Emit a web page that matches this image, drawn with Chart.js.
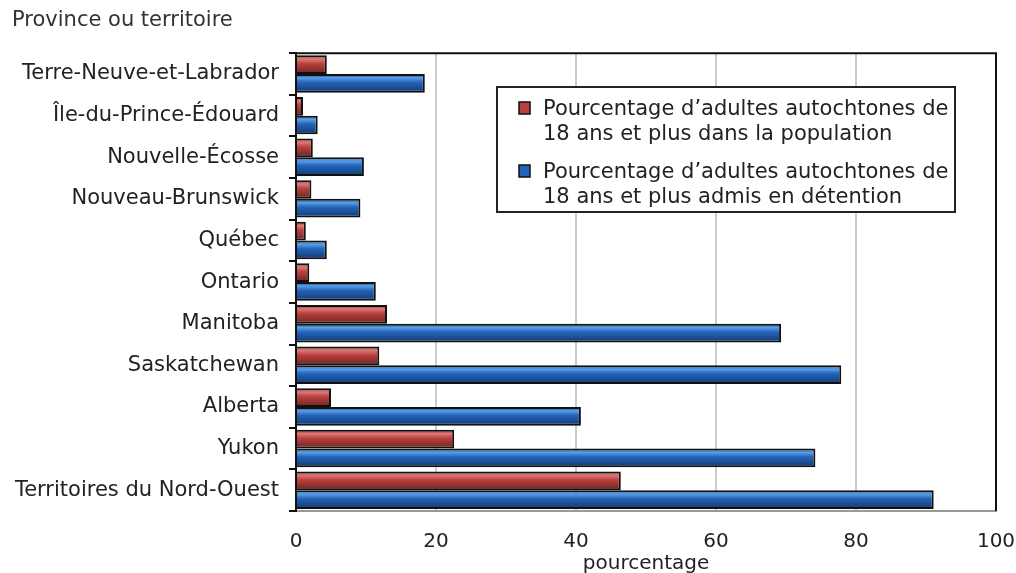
<!DOCTYPE html>
<html>
<head>
<meta charset="utf-8">
<script src="https://cdn.jsdelivr.net/npm/chart.js@4.4.0/dist/chart.umd.min.js"></script>
<style>
  html, body { margin: 0; padding: 0; background: #fff; }
  #wrap { width: 1016px; height: 573px; position: relative; }
</style>
</head>
<body>
<div id="wrap"><canvas id="graph_detention"></canvas></div>
<script>
var provinces = ['Terre-Neuve-et-Labrador', 'Île-du-Prince-Édouard', 'Nouvelle-Écosse',
  'Nouveau-Brunswick', 'Québec', 'Ontario', 'Manitoba', 'Saskatchewan', 'Alberta',
  'Yukon', 'Territoires du Nord-Ouest'];
var population = [4.4, 1.0, 2.4, 2.2, 1.4, 1.9, 13.0, 11.9, 5.0, 22.6, 46.4];
var detention = [18.4, 3.1, 9.7, 9.2, 4.4, 11.4, 69.3, 77.9, 40.7, 74.2, 91.1];
var xTicks = [0, 20, 40, 60, 80, 100];
var legendPopulation = ['Pourcentage d’adultes autochtones de', '18 ans et plus dans la population'];
var legendDetention = ['Pourcentage d’adultes autochtones de', '18 ans et plus admis en détention'];

var catPct = 0.9;
var police = '"DejaVu Sans", Verdana, sans-serif';

// shaded fill for each bar: light streak near the top, dark toward the bottom
function barFill(light, mid, dark) {
  return function (ctx) {
    var chart = ctx.chart, y = chart.scales.y;
    if (!y || !chart.chartArea || ctx.dataIndex === undefined) return mid;
    var c = y.getPixelForValue(ctx.dataIndex);
    var band = (y.height / provinces.length) * catPct;
    var top = ctx.datasetIndex === 0 ? c - band / 2 : c;
    var g = chart.ctx.createLinearGradient(0, top, 0, top + band / 2);
    g.addColorStop(0, dark);
    g.addColorStop(0.2, light);
    g.addColorStop(0.45, mid);
    g.addColorStop(1, dark);
    return g;
  };
}

// top and right edges of the plot frame
var cadre = {
  id: 'cadre',
  afterDatasetsDraw: function (chart) {
    var a = chart.chartArea, c = chart.ctx;
    c.save();
    c.strokeStyle = '#111';
    c.lineWidth = 2;
    c.beginPath();
    c.moveTo(a.left, a.top);
    c.lineTo(a.right, a.top);
    c.lineTo(a.right, a.bottom);
    c.stroke();
    c.restore();
  }
};

// boxed legend with two-line entries
var legende = {
  id: 'legende',
  afterDraw: function (chart) {
    var c = chart.ctx;
    var x = 497, y = 87, w = 458, h = 125;
    c.save();
    c.fillStyle = '#fff';
    c.fillRect(x, y, w, h);
    c.strokeStyle = '#222';
    c.lineWidth = 2;
    c.strokeRect(x, y, w, h);
    var entries = [
      { lines: legendPopulation, color: '#b8413e' },
      { lines: legendDetention, color: '#2463b8' }
    ];
    c.font = '21px ' + police;
    c.textBaseline = 'alphabetic';
    entries.forEach(function (e, i) {
      var top = y + 14 + i * 63;
      c.fillStyle = e.color;
      c.fillRect(x + 22, top + 1, 11, 12);
      c.strokeStyle = '#111';
      c.lineWidth = 1.5;
      c.strokeRect(x + 22, top + 1, 11, 12);
      c.fillStyle = '#222';
      e.lines.forEach(function (t, j) {
        c.fillText(t, x + 46, top + 14 + j * 25);
      });
    });
    c.restore();
  }
};

var graphique = new Chart(document.getElementById('graph_detention').getContext('2d'), {
  type: 'bar',
  data: {
    labels: provinces,
    datasets: [
      {
        label: legendPopulation.join(' '),
        data: population,
        backgroundColor: barFill('#e07a76', '#b8413e', '#6e2321'),
        borderColor: '#111',
        borderWidth: 2,
        categoryPercentage: catPct,
        barPercentage: 1.0
      },
      {
        label: legendDetention.join(' '),
        data: detention,
        backgroundColor: barFill('#5aa0ea', '#2463b8', '#123a72'),
        borderColor: '#111',
        borderWidth: 2,
        categoryPercentage: catPct,
        barPercentage: 1.0
      }
    ]
  },
  options: {
    indexAxis: 'y',
    responsive: true,
    maintainAspectRatio: false,
    animation: false,
    layout: { padding: { left: 12, right: 0, top: 0, bottom: 0 } },
    scales: {
      x: {
        min: 0,
        max: 100,
        afterBuildTicks: function (scale) {
          scale.ticks = xTicks.map(function (v) { return { value: v }; });
        },
        afterFit: function (scale) {
          scale.height = 62;
          scale.paddingLeft = 0;
          scale.paddingRight = 20;
        },
        grid: { color: '#cccccc', lineWidth: 2, drawTicks: false },
        border: { color: '#999', width: 2 },
        ticks: { color: '#222', font: { family: police, size: 20 }, padding: 19, maxRotation: 0 },
        title: {
          display: true,
          text: 'pourcentage',
          color: '#222',
          font: { family: police, size: 20 },
          padding: { top: 0, bottom: -3 }
        }
      },
      y: {
        afterFit: function (scale) { scale.width = 284; },
        grid: { offset: true, drawOnChartArea: false, drawTicks: true, tickLength: 7, color: '#111', lineWidth: 2 },
        border: { color: '#111', width: 2 },
        ticks: { color: '#222', font: { family: police, size: 21 }, padding: 10 }
      }
    },
    plugins: {
      legend: { display: false },
      tooltip: { enabled: false },
      title: {
        display: true,
        text: 'Province ou territoire',
        align: 'start',
        color: '#333',
        font: { family: police, size: 21, weight: 'normal' },
        padding: { top: 8, bottom: 20 }
      }
    }
  },
  plugins: [cadre, legende]
});
</script>
</body>
</html>
